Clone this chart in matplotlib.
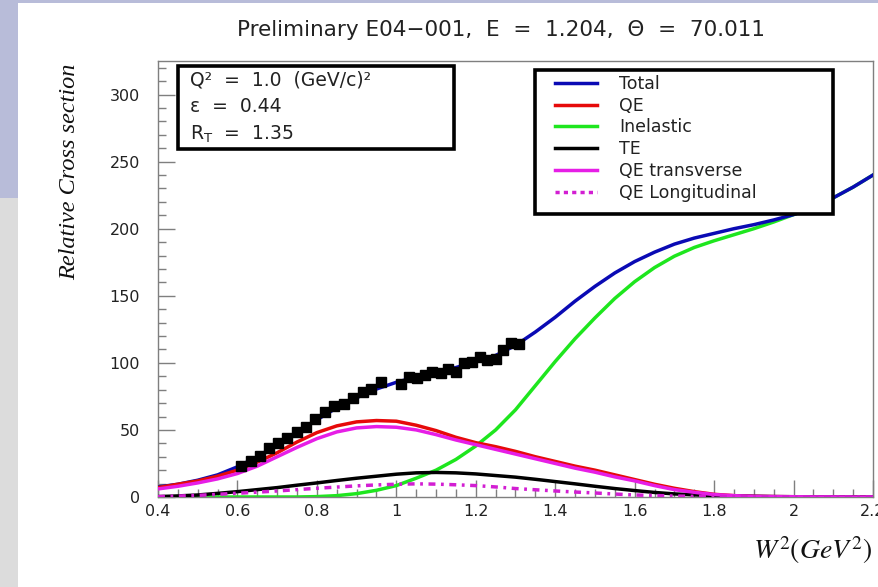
import numpy as np
import matplotlib
matplotlib.use("Agg")
import matplotlib.pyplot as plt
from matplotlib.patches import Rectangle
from matplotlib.lines import Line2D

# ---- model curves, sampled on a common W^2 grid (GeV^2) ----
w2 = [0.40, 0.45, 0.50, 0.55, 0.60, 0.65, 0.70, 0.75, 0.80, 0.85,
      0.90, 0.95, 1.00, 1.05, 1.10, 1.15, 1.20, 1.25, 1.30, 1.35,
      1.40, 1.45, 1.50, 1.55, 1.60, 1.65, 1.70, 1.75, 1.80, 1.85,
      1.90, 1.95, 2.00, 2.05, 2.10, 2.15, 2.20]

total = [7.5, 9.5, 12.5, 16.5, 22.5, 30, 39, 48, 57.5, 66.5,
         74, 80.5, 85.5, 89.5, 93, 96.5, 101, 105.5, 113, 123,
         134, 146, 157, 167, 175.5, 182.5, 188.5, 193, 196.5, 200,
         203, 206.5, 210.5, 216, 223, 231, 240]

qe = [7, 9.5, 12, 15.5, 20, 26, 33, 41, 48, 53,
      56, 57, 56.5, 53.5, 49.5, 44.5, 40.5, 37.5, 34, 30,
      26.5, 23, 20, 16.5, 13, 9.5, 6.5, 4, 2, 1,
      0.5, 0.3, 0.2, 0.1, 0.1, 0.0, 0.0]

inelastic = [0, 0, 0, 0, 0, 0, 0, 0, 0.3, 1,
             2.5, 5, 8.5, 14, 20, 28, 38, 50, 65, 83,
             101, 118, 133.5, 148, 160.5, 171, 179.5, 186, 191, 195.5,
             200, 205, 210.5, 216, 223, 231, 240]

te = [0.3, 0.8, 1.5, 2.7, 4, 5.5, 7, 8.8, 10.5, 12.3,
      14, 15.5, 17, 18, 18.3, 18, 17.2, 16, 14.8, 13.2,
      11.5, 9.8, 8, 6.3, 4.8, 3.4, 2.3, 1.6, 1, 0.7,
      0.5, 0.3, 0.2, 0.1, 0.1, 0.0, 0.0]

qe_trans = [6, 8, 10.5, 13.5, 17.5, 23, 30, 37, 43.5, 48.5,
            51.5, 52.5, 52, 50, 46.5, 42.5, 39, 35.5, 32, 28.5,
            25, 21.5, 18.5, 15, 12, 8.5, 5.5, 3.5, 1.8, 1,
            0.5, 0.3, 0.2, 0.1, 0.1, 0.0, 0.0]

qe_long = [0.3, 0.7, 1.2, 2, 2.8, 3.6, 4.5, 5.5, 6.5, 7.4,
           8.3, 9, 9.5, 9.8, 9.6, 9.1, 8.5, 7.5, 6.3, 5.4,
           4.5, 3.7, 3, 2.2, 1.5, 1.1, 0.7, 0.5, 0.3, 0.2,
           0.1, 0.05, 0.0, 0.0, 0.0, 0.0, 0.0]

# ---- measured points ----
data_w2 = [0.608, 0.633, 0.656, 0.679, 0.702, 0.726, 0.750, 0.773, 0.796,
           0.821, 0.844, 0.867, 0.890, 0.915, 0.937, 0.962, 1.012, 1.033,
           1.053, 1.072, 1.091, 1.112, 1.131, 1.151, 1.171, 1.190, 1.210,
           1.229, 1.250, 1.269, 1.288, 1.309]
data_xs = [23.4, 27.1, 30.8, 36.3, 40.0, 43.8, 48.8, 52.5, 58.4,
           63.2, 68.1, 69.4, 73.6, 78.1, 80.4, 85.6, 84.1, 89.8,
           89.0, 90.8, 93.0, 92.3, 95.3, 93.5, 100.2, 101.0, 104.7,
           102.2, 103.0, 109.7, 114.7, 114.2]
data_xerr = 0.01
data_yerr = 1.5

x_ticks = [0.4, 0.6, 0.8, 1.0, 1.2, 1.4, 1.6, 1.8, 2.0, 2.2]
x_ticklabels = ["0.4", "0.6", "0.8", "1", "1.2", "1.4", "1.6", "1.8", "2", "2.2"]
y_ticks = [0, 50, 100, 150, 200, 250, 300]

title = "Preliminary E04\u2212001,  E  =  1.204,  \u0398  =  70.011"
info_lines = ["Q\u00b2  =  1.0  (GeV/c)\u00b2", "\u03b5  =  0.44", r"R$_{\rm T}$  =  1.35"]
legend_labels = ["Total", "QE", "Inelastic", "TE", "QE transverse", "QE Longitudinal"]

plt.rcParams["font.family"] = ["DejaVu Sans"]

W, H = 879, 587
fig = plt.figure(figsize=(W / 100, H / 100), dpi=100)
fig.patch.set_facecolor("white")

# slide decoration: lavender top band and left strip, grey lower strip
fig.patches.append(Rectangle((0, 1 - 3 / H), 1, 3 / H, transform=fig.transFigure,
                             facecolor="#b8bcd9", edgecolor="none", zorder=0))
fig.patches.append(Rectangle((0, 1 - 198 / H), 18 / W, 198 / H, transform=fig.transFigure,
                             facecolor="#b8bcd9", edgecolor="none", zorder=0))
fig.patches.append(Rectangle((0, 0), 18 / W, 1 - 198 / H, transform=fig.transFigure,
                             facecolor="#dcdcdc", edgecolor="none", zorder=0))

left, right, bottom, top = 158 / W, 873 / W, 1 - 497 / H, 1 - 61 / H
ax = fig.add_axes([left, bottom, right - left, top - bottom])
ax.set_xlim(0.4, 2.2)
ax.set_ylim(0, 325)

lw = 2.5
ax.plot(w2, inelastic, color="#1ee61e", lw=lw, zorder=2)
ax.plot(w2, total, color="#0a0ab4", lw=lw, zorder=3)
ax.plot(w2, qe, color="#e60a0a", lw=lw, zorder=3)
ax.plot(w2, te, color="black", lw=lw, zorder=3)
ax.plot(w2, qe_trans, color="#e61ee6", lw=lw, zorder=3)
ax.plot(w2, qe_long, color="#d21ed2", lw=lw, ls=(0, (2.0, 1.6, 0.8, 1.6)), zorder=3)

ax.errorbar(data_w2, data_xs, xerr=data_xerr, yerr=data_yerr, fmt="s",
            color="black", ms=6.5, elinewidth=1.4, capsize=0, zorder=4)

# ROOT-style frame and ticks
for s in ax.spines.values():
    s.set_color("#7f7f7f")
    s.set_linewidth(1.0)
ax.set_xticks(x_ticks)
ax.set_xticklabels(x_ticklabels)
ax.set_xticks(np.arange(0.4, 2.2001, 0.05), minor=True)
ax.set_yticks(y_ticks)
ax.set_yticks(np.arange(0, 321, 10), minor=True)
ax.tick_params(which="both", direction="in", color="#7f7f7f", width=1.0,
               top=False, right=False, labelsize=11.5, labelcolor="#222222")
ax.tick_params(which="major", length=12)
ax.tick_params(which="minor", length=6)
ax.tick_params(axis="x", pad=5)
ax.tick_params(axis="y", pad=13)

fig.text(501 / W, 1 - 30 / H, title, ha="center", va="center", fontsize=15.5, color="#222222")

fig.text(70 / W, 1 - 172 / H, "Relative Cross section", rotation=90, ha="center", va="center",
         fontsize=17.5, family="Liberation Serif", style="italic", color="#111111")
fig.text(872 / W, 1 - 550 / H, r"$W^{2}(GeV^{2})$", ha="right", va="center",
         fontsize=20, math_fontfamily="stix", color="#111111")

# info box
fig.patches.append(Rectangle((178 / W, 1 - 149 / H), (454 - 178) / W, (149 - 66) / H,
                             transform=fig.transFigure, facecolor="white",
                             edgecolor="black", linewidth=2.6, zorder=5))
for i, txt in enumerate(info_lines):
    fig.text(190 / W, 1 - (80 + 27 * i) / H, txt, ha="left", va="center",
             fontsize=13.5, color="#222222", math_fontfamily="dejavusans", zorder=6)

# legend box and entries
fig.patches.append(Rectangle((535 / W, 1 - 214 / H), (833 - 535) / W, (214 - 70) / H,
                             transform=fig.transFigure, facecolor="white",
                             edgecolor="black", linewidth=2.6, zorder=5))
handles = [Line2D([], [], color="#0a0ab4", lw=lw),
           Line2D([], [], color="#e60a0a", lw=lw),
           Line2D([], [], color="#1ee61e", lw=lw),
           Line2D([], [], color="black", lw=lw),
           Line2D([], [], color="#e61ee6", lw=lw),
           Line2D([], [], color="#d21ed2", lw=lw, ls=(0, (1.2, 1.2)))]
leg = fig.legend(handles, legend_labels, loc="upper left",
                 bbox_to_anchor=(555 / W, 1 - 75 / H), bbox_transform=fig.transFigure,
                 fontsize=12.5, frameon=False, handlelength=2.4,
                 handletextpad=1.3, labelspacing=0.215, borderpad=0,
                 borderaxespad=0, labelcolor="#222222")
leg.set_zorder(6)

fig.savefig("out.png", dpi=100)
